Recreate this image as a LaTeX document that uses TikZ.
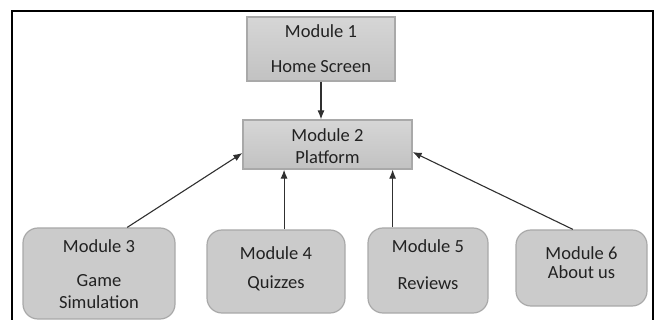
\documentclass[tikz,border=0pt]{standalone}
\usepackage{fontspec}
\setmainfont{Carlito}
\usetikzlibrary{arrows.meta,calc}
\definecolor{boxfill}{HTML}{CBCBCB}
\definecolor{boxtop}{HTML}{D6D6D6}
\definecolor{boxbot}{HTML}{C2C2C2}
\definecolor{boxline}{HTML}{A9A9A9}
\definecolor{conn}{HTML}{303030}
\definecolor{txt}{HTML}{222222}
\tikzset{
  sqbox/.style={draw=boxline, line width=1.2pt, top color=boxtop, bottom color=boxbot, rectangle, inner sep=0pt},
  rdbox/.style={draw=boxline, line width=1.2pt, fill=boxfill, rectangle, rounded corners=15pt, inner sep=0pt},
  lbl/.style={font=\fontsize{18.5}{22}\selectfont, text=txt, inner sep=0pt, anchor=center},
  arr/.style={draw=conn, line width=1.1pt, -{Latex[length=9pt,width=7pt]}},
  frameline/.style={draw=black, line width=1.6pt}
}
\begin{document}
\begin{tikzpicture}[x=1pt,y=-1pt]
\useasboundingbox (0,0) rectangle (658,320);
\draw[frameline] (12,322) -- (12,11) -- (653,11) -- (653,322);
% boxes
\node[sqbox, minimum width=148pt, minimum height=64pt] (m1) at (321,49) {};
\node[sqbox, minimum width=169pt, minimum height=49pt] (m2) at (327.5,144.5) {};
\node[rdbox, minimum width=152pt, minimum height=91pt] (m3) at (99,273.5) {};
\node[rdbox, minimum width=138pt, minimum height=83pt] (m4) at (276,271.5) {};
\node[rdbox, minimum width=120pt, minimum height=85pt] (m5) at (428,270.5) {};
\node[rdbox, minimum width=131pt, minimum height=76pt] (m6) at (581.5,268) {};
% texts
\node[lbl] (t1a) at (321,31) {Module 1};
\node[lbl] (t1b) at (321,67) {Home Screen};
\node[lbl] (t2a) at (327.5,135) {Module 2};
\node[lbl] (t2b) at (327.5,157) {Platform};
\node[lbl] (t3a) at (99,246) {Module 3};
\node[lbl] (t3b) at (99,281) {Game};
\node[lbl] (t3c) at (99,302) {Simulation};
\node[lbl] (t4a) at (276,253) {Module 4};
\node[lbl] (t4b) at (276,283) {Quizzes};
\node[lbl] (t5a) at (428,246) {Module 5};
\node[lbl] (t5b) at (428,283) {Reviews};
\node[lbl] (t6a) at (581.5,253) {Module 6};
\node[lbl] (t6b) at (581.5,272) {About us};
% connectors
\draw[arr] (m1.south) -- (m1.south |- m2.north);
\draw[arr] ($(m3.north west)!0.684!(m3.north east)$) -- ($(m2.north west)!0.67!(m2.south west)$);
\draw[arr] ($(m4.north west)!0.558!(m4.north east)$) coordinate (c4) -- (c4 |- m2.south);
\draw[arr] ($(m5.north west)!0.208!(m5.north east)$) coordinate (c5) -- (c5 |- m2.south);
\draw[arr] ($(m6.north west)!0.435!(m6.north east)$) -- ($(m2.north east)!0.65!(m2.south east)$);
\end{tikzpicture}
\end{document}
